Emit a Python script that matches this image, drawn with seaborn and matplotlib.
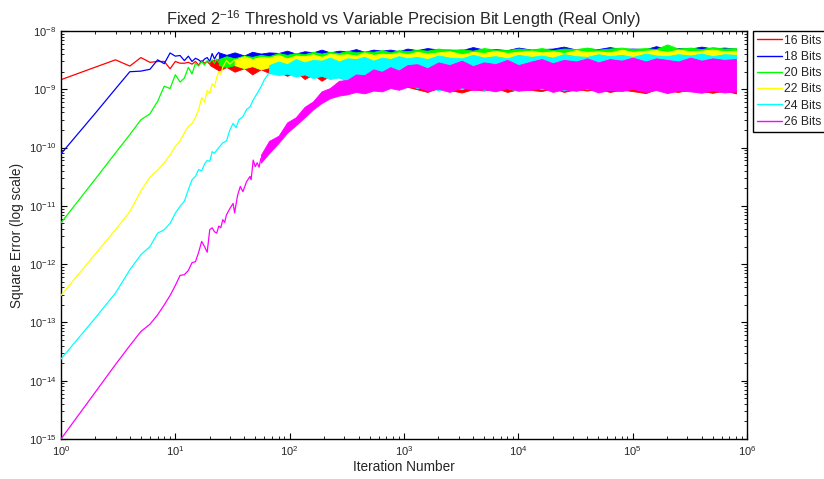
import numpy as np
import seaborn as sns
import matplotlib.pyplot as plt
from matplotlib.lines import Line2D
from matplotlib.ticker import NullFormatter

# clean (early) part of each run, one point per iteration
RED_X = list(range(1, 21))
RED_Y = [1.46e-9, 2.4e-9, 3.2e-9, 2.5e-9, 3.5e-9, 2.9e-9, 3.0e-9, 3.0e-9, 2.25e-9, 3.0e-9,
         2.8e-9, 2.8e-9, 2.9e-9, 2.7e-9, 3.0e-9, 2.6e-9, 3.1e-9, 2.8e-9, 3.0e-9, 2.7e-9]

BLUE_X = list(range(1, 25))
BLUE_Y = [7.8e-11, 3.9e-10, 1.02e-9, 2.0e-9, 2.05e-9, 2.2e-9, 3.2e-9, 2.75e-9, 4.2e-9, 3.7e-9,
          3.8e-9, 3.1e-9, 3.7e-9, 3.0e-9, 3.4e-9, 3.2e-9, 2.9e-9, 3.3e-9, 3.5e-9, 3.0e-9,
          4.1e-9, 3.3e-9, 3.9e-9, 4.3e-9]

GREEN_X = list(range(1, 25))
GREEN_Y = [5.1e-12, 2.9e-11, 8.1e-11, 1.67e-10, 3.0e-10, 3.8e-10, 6.2e-10, 1.13e-9, 1.03e-9, 1.78e-9,
           1.33e-9, 1.56e-9, 2.38e-9, 1.83e-9, 2.8e-9, 2.5e-9, 3.0e-9, 2.6e-9, 3.1e-9, 2.9e-9,
           3.2e-9, 2.8e-9, 3.3e-9, 2.9e-9]

YELLOW_X = list(range(1, 27)) + [28, 30, 33]
YELLOW_Y = [2.9e-13, 1.5e-12, 3.9e-12, 8.0e-12, 1.8e-11, 3.1e-11, 4.1e-11, 5.5e-11, 7.5e-11, 1.05e-10,
            1.3e-10, 1.8e-10, 2.3e-10, 2.6e-10, 3.3e-10, 4.5e-10, 7.2e-10, 6.0e-10, 9.5e-10, 8.5e-10,
            1.25e-9, 1.1e-9, 1.6e-9, 2.0e-9, 1.8e-9, 2.4e-9, 3.1e-9, 2.7e-9, 3.2e-9]

CYAN_X = list(range(1, 23)) + [24, 26, 28, 30, 32, 34, 36, 39, 42, 45, 48, 52, 56, 60, 66]
CYAN_Y = [2.35e-14, 1.2e-13, 3.2e-13, 8.0e-13, 1.45e-12, 2.0e-12, 3.4e-12, 3.9e-12, 5.0e-12, 7.5e-12,
          9.8e-12, 1.2e-11, 1.9e-11, 2.8e-11, 3.2e-11, 4.2e-11, 4.0e-11, 5.2e-11, 6.0e-11, 5.8e-11,
          8.5e-11, 8.0e-11,
          1.0e-10, 1.2e-10, 1.3e-10, 2.0e-10, 2.6e-10, 2.2e-10, 3.0e-10, 3.4e-10, 4.5e-10, 5.0e-10,
          6.6e-10, 8.5e-10, 1.1e-9, 1.45e-9, 1.9e-9]

MAGENTA_X = list(range(1, 29)) + [30, 32, 33, 35, 37, 39, 42, 45, 46, 48, 50, 52, 54, 56]
MAGENTA_Y = [1.0e-15, 6.4e-15, 1.9e-14, 4.0e-14, 7.0e-14, 9.3e-14, 1.35e-13, 2.0e-13, 2.9e-13, 4.3e-13,
             6.4e-13, 6.6e-13, 7.8e-13, 1.06e-12, 1.1e-12, 1.6e-12, 2.45e-12, 2.0e-12, 1.6e-12, 3.9e-12,
             4.2e-12, 3.6e-12, 3.4e-12, 4.5e-12, 4.2e-12, 5.8e-12, 5.2e-12, 7.0e-12,
             9.0e-12, 1.1e-11, 7.6e-12, 1.5e-11, 2.15e-11, 1.75e-11, 2.6e-11, 3.2e-11, 2.8e-11, 6.1e-11,
             4.7e-11, 5.5e-11, 4.6e-11, 6.5e-11]

# noisy part: upper / lower edge of each band (units of 1e-9), on a shared
# iteration grid; each band uses the last len(hi) grid points
BAND_X = [20, 24, 28, 33, 40, 47, 56, 66, 80, 95,
          113, 135, 160, 190, 225, 270, 320, 380, 450, 540,
          640, 760, 900, 1070, 1300, 1600, 2000, 2500, 3200, 4000,
          5000, 6300, 8000, 10000, 13000, 16000, 20000, 25000, 32000, 40000,
          50000, 63000, 80000, 100000, 130000, 160000, 200000, 250000, 320000, 400000,
          500000, 630000, 800000]

RED_HI = [3.1, 3.3, 3.0, 3.2, 3.1, 3.3, 3.0, 3.2, 3.1, 3.3, 3.0, 3.2, 3.1, 3.2, 3.0, 3.2, 3.1, 3.2,
          3.0, 3.2, 3.1, 3.2, 3.0, 3.2,
          3.0, 3.2, 3.0, 3.2, 3.0, 3.2, 3.0, 3.2, 3.0, 3.2, 3.0, 3.2, 3.0, 3.2, 3.0, 3.2, 3.0, 3.2,
          3.0, 3.2, 3.0, 3.2, 3.0, 3.2, 3.0, 3.2, 3.0, 3.2, 3.0]
RED_LO = [2.6, 2.1, 2.4, 2.0, 2.3, 1.8, 2.2, 1.9, 2.0, 1.7, 2.0, 1.5, 1.8, 1.4, 1.7, 1.6, 1.5, 1.4,
          1.6, 1.3, 1.4, 1.2, 1.3, 1.1,
          1.0, 0.9, 1.05, 0.97, 0.88, 1.0, 0.95, 1.05, 0.9, 1.0, 0.97, 0.93, 1.05, 0.9, 1.0, 0.95,
          1.02, 0.9, 0.98, 0.93, 0.86, 1.0, 0.95, 0.9, 1.0, 0.93, 0.87, 0.95, 0.85]

BLUE_HI = [4.3, 3.9, 4.3, 3.8, 4.4, 4.1, 4.3, 4.2, 4.6, 4.1, 4.5, 4.3, 4.8, 4.3, 4.6, 4.5, 4.9, 4.4,
           4.8, 4.6, 4.8, 4.5, 5.0,
           4.7, 5.1, 4.8, 4.8, 4.7, 5.3, 4.8, 4.9, 4.7, 5.2, 4.8, 4.9, 5.0, 5.4, 4.8, 5.0, 4.9, 5.3,
           4.9, 5.0, 4.9, 5.5, 4.9, 5.1, 5.0, 5.4, 5.0, 5.2, 5.0]
BLUE_LO = [3.0, 2.9, 3.0, 2.8, 2.9, 2.6, 2.8, 2.5, 2.7, 2.4, 2.6, 2.3, 2.5, 2.2, 2.4, 2.1, 2.3, 2.0,
           2.2, 2.0, 2.1, 1.9, 2.1,
           1.9, 2.1, 1.9, 2.1, 1.9, 2.1, 1.9, 2.1, 1.9, 2.1, 1.9, 2.1, 1.9, 2.1, 1.9, 2.1, 1.9, 2.1,
           1.9, 2.1, 1.9, 2.1, 1.9, 2.1, 1.9, 2.1, 1.9, 2.1, 1.9]

GREEN_HI = [3.3, 3.7, 3.4, 3.8, 3.6, 3.9, 3.7, 4.2, 3.9, 4.2, 4.0, 4.4, 4.1, 4.4, 4.2, 4.6, 4.3, 4.5,
            4.4, 4.7, 4.3, 4.7, 4.5,
            4.8, 4.6, 5.0, 4.7, 4.9, 4.6, 5.1, 4.8, 4.7, 5.0, 4.8, 5.1, 4.7, 5.0, 4.9, 5.2, 4.8, 5.0,
            5.2, 4.9, 5.1, 4.9, 5.9, 5.0, 5.2, 4.9, 5.3, 5.0, 5.1]
GREEN_LO = [2.6, 2.4, 2.6, 2.3, 2.5, 2.2, 2.4, 2.1, 2.3, 2.0, 2.2, 2.0, 2.1, 1.9, 2.1, 1.9, 2.0, 1.8,
            2.0, 1.8, 1.9, 1.8, 1.9,
            2.0, 1.8, 2.0, 1.8, 2.0, 1.8, 2.0, 1.8, 2.0, 1.8, 2.0, 1.8, 2.0, 1.8, 2.0, 1.8, 2.0, 1.8,
            2.0, 1.8, 2.0, 1.8, 2.0, 1.8, 2.0, 1.8, 2.0, 1.8, 2.0]

YELLOW_HI = [3.2, 3.7, 3.3, 3.6, 3.5, 3.9, 3.4, 3.8, 3.7, 4.0, 3.6, 4.1, 3.9, 4.0, 3.8, 4.3, 3.9, 4.1,
             4.0, 4.3, 4.0,
             4.4, 4.1, 4.3, 4.5, 4.0, 4.4, 4.2, 4.6, 4.2, 4.4, 4.6, 4.3, 4.5, 4.2, 4.7, 4.4, 4.5, 4.3,
             4.8, 4.4, 4.6, 4.7, 4.4, 4.8, 4.5, 4.6, 4.8, 4.5, 4.6]
YELLOW_LO = [2.6, 2.3, 2.5, 2.2, 2.4, 2.1, 2.3, 2.0, 2.2, 1.9, 2.1, 1.9, 2.1, 1.8, 2.0, 1.8, 2.0, 1.8,
             1.9, 1.8, 1.9,
             1.8, 2.0, 1.8, 2.0, 1.8, 2.0, 1.8, 2.0, 1.8, 2.0, 1.8, 2.0, 1.8, 2.0, 1.8, 2.0, 1.8, 2.0,
             1.8, 2.0, 1.8, 2.0, 1.8, 2.0, 1.8, 2.0, 1.8, 2.0, 1.8]

CYAN_HI = [2.6, 3.0, 2.7, 3.3, 2.9, 3.2, 3.1, 3.5, 3.0, 3.4, 3.3, 3.6, 3.1, 3.5, 3.3, 3.7, 3.4,
           3.6, 3.3, 3.8, 3.5, 3.4, 3.9, 3.5, 3.7, 3.4, 3.9, 3.6, 3.8, 3.5, 4.0, 3.7, 3.6, 4.0, 3.7,
           3.9, 3.6, 4.1, 3.8, 3.7, 4.0, 3.8, 4.1, 3.7, 4.0, 3.9]
CYAN_LO = [1.9, 1.75, 1.85, 1.65, 1.8, 1.55, 1.7, 1.5, 1.6, 1.35, 1.5, 1.3, 1.4, 1.2, 1.3, 1.1, 1.2,
           1.05, 1.15, 0.95, 1.12, 1.0, 1.2, 0.97, 1.1, 1.05, 0.93, 1.15, 1.0, 1.1, 0.95, 1.12, 1.0,
           1.15, 0.97, 1.1, 1.05, 0.92, 1.12, 1.0, 1.1, 0.95, 1.15, 1.0, 0.93, 1.0]

MAGENTA_HI = [0.075, 0.13, 0.16, 0.27, 0.33, 0.5, 0.62, 0.92, 1.05, 1.4, 1.45, 1.8, 1.75, 2.2, 2.0,
              2.4, 2.1, 2.6,
              2.7, 2.3, 2.9, 2.6, 3.1, 2.5, 2.9, 2.7, 3.2, 2.6, 3.0, 3.3, 2.8, 3.2, 3.0, 3.4, 2.9,
              3.3, 3.1, 3.5, 3.0, 3.4, 3.2, 3.0, 3.5, 3.1, 3.4, 3.2, 3.3]
MAGENTA_LO = [0.055, 0.08, 0.12, 0.18, 0.24, 0.33, 0.45, 0.58, 0.7, 0.78, 0.82, 0.9, 0.85, 0.95,
              0.92, 1.05, 0.98, 1.1,
              1.1, 0.95, 1.02, 0.9, 1.08, 0.97, 1.0, 0.92, 1.05, 0.95, 0.98, 1.06, 0.9, 1.0, 0.94,
              1.04, 0.88, 0.98, 0.93, 1.02, 0.9, 0.97, 0.86, 0.95, 0.92, 0.87, 0.96, 0.88, 0.92]

LABELS = ["16 Bits", "18 Bits", "20 Bits", "22 Bits", "24 Bits", "26 Bits"]
COLORS = ["#ff0000", "#0000ff", "#00ff00", "#ffff00", "#00ffff", "#ff00ff"]

series = [
    (RED_X, RED_Y, RED_HI, RED_LO),
    (BLUE_X, BLUE_Y, BLUE_HI, BLUE_LO),
    (GREEN_X, GREEN_Y, GREEN_HI, GREEN_LO),
    (YELLOW_X, YELLOW_Y, YELLOW_HI, YELLOW_LO),
    (CYAN_X, CYAN_Y, CYAN_HI, CYAN_LO),
    (MAGENTA_X, MAGENTA_Y, MAGENTA_HI, MAGENTA_LO),
]

sns.set_style("ticks")
plt.rcParams['font.family'] = ['Liberation Sans', 'DejaVu Sans']
plt.rcParams['mathtext.fontset'] = 'custom'
plt.rcParams['mathtext.rm'] = 'Liberation Sans'

fig = plt.figure(figsize=(8.24, 4.79), dpi=100)
ax = fig.add_axes([0.074, 0.0835, 0.8326, 0.8518])
ax.set_xscale('log')
ax.set_yscale('log')

for i, (tx, ty, hi, lo) in enumerate(series):
    c = COLORS[i]
    sns.lineplot(x=tx, y=ty, color=c, lw=0.9, estimator=None, ax=ax, zorder=2 + i)
    bx = BAND_X[-len(hi):]
    ax.fill_between(bx, np.array(lo) * 1e-9, np.array(hi) * 1e-9,
                    color=c, lw=0.6, zorder=2 + i)

ax.set_xticks([10.0 ** k for k in range(0, 7)])
ax.set_yticks([10.0 ** k for k in range(-15, -7)])
ax.set_xticks([m * 10.0 ** k for k in range(0, 6) for m in range(2, 10)], minor=True)
ax.set_yticks([m * 10.0 ** k for k in range(-15, -8) for m in range(2, 10)], minor=True)
ax.xaxis.set_minor_formatter(NullFormatter())
ax.yaxis.set_minor_formatter(NullFormatter())
ax.set_xlim(1, 1e6)
ax.set_ylim(1e-15, 1e-8)
ax.tick_params(which='both', direction='in', top=True, right=True, labelsize=8, color='black')
ax.tick_params(which='major', length=4, width=0.8)
ax.tick_params(which='minor', length=2, width=0.6)
for s in ax.spines.values():
    s.set_linewidth(1.0)
    s.set_color('black')

ax.set_title("Fixed 2$^{-16}$ Threshold vs Variable Precision Bit Length (Real Only)",
             fontsize=11.8, pad=4)
ax.set_xlabel("Iteration Number", fontsize=9.8, labelpad=2)
ax.set_ylabel("Square Error (log scale)", fontsize=9.8, labelpad=3)

handles = [Line2D([], [], color=c, lw=1) for c in COLORS]
ax.legend(handles, LABELS, loc='upper left', bbox_to_anchor=(1.0087, 1.0), frameon=True,
          fancybox=False, edgecolor='black', framealpha=1, fontsize=8.8, handlelength=2.1,
          handletextpad=0.1, borderpad=0.3, labelspacing=0.35, borderaxespad=0)

fig.savefig("out.png", dpi=100)
